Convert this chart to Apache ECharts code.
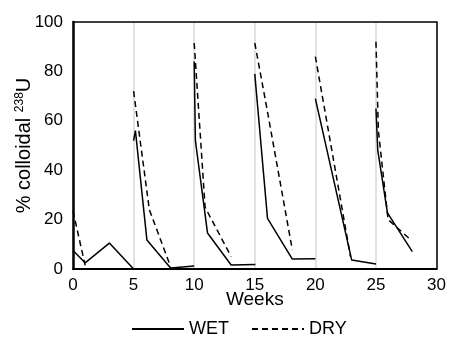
<!DOCTYPE html>
<html>
<head>
<meta charset="utf-8">
<script src="https://cdn.jsdelivr.net/npm/echarts@6/dist/echarts.min.js"></script>
<style>
  html, body { margin: 0; padding: 0; background: #fff; }
  #container { width: 449px; height: 345px; }
</style>
</head>
<body>
<div id="container"></div>
<script>
// weeks / % colloidal 238U, null = gap between sampling cycles
var wetWeeks = [0, 1, 3, 5, null, 5.0, 5.15, 6.1, 8.05, 10, null, 10, 10.1, 11.1, 13.05, 15.05, null, 15, 16.05, 18.1, 20, null, 20, 23, 25, null, 25, 25.15, 25.95, 28];
var wetPct   = [7.5, 2.5, 10.5, 0, null, 52, 56, 11.7, 0.4, 1.2, null, 84, 52, 14.6, 1.6, 1.8, null, 79, 20.5, 4, 4.2, null, 69, 3.6, 2, null, 65, 48, 22.7, 7];
var dryWeeks = [0, 1, null, 5, 6.3, 8.05, null, 10, 10.9, 13.05, null, 15, 16, 18.1, null, 20, 22.9, null, 25, 25.2, 26, 27.9];
var dryPct   = [23.5, 1.5, null, 72, 24, 1, null, 91.5, 25, 5, null, 91.5, 65, 7.7, null, 86, 5, null, 92, 56, 20, 11.7];
var xTicks = [0, 5, 10, 15, 20, 25, 30];
var yTicks = [0, 20, 40, 60, 80, 100];

function pairs(xs, ys) {
    return xs.map(function (x, i) {
        if (x === null || ys[i] === null) return ['-', '-'];
        return [x, ys[i]];
    });
}

var font = '"Liberation Sans", Arial, sans-serif';
var myChart = echarts.init(document.getElementById('container'));

// plain axes used only to draw the black frame over the gray split lines
var frameX = {
    type: 'value', position: 'top', z: 5,
    min: xTicks[0], max: xTicks[xTicks.length - 1],
    axisLine: { show: true, onZero: false, lineStyle: { color: '#000', width: 1.5 } },
    axisTick: { show: false }, axisLabel: { show: false }, splitLine: { show: false }
};
var frameY = {
    type: 'value', position: 'right', z: 5,
    min: yTicks[0], max: yTicks[yTicks.length - 1],
    axisLine: { show: true, onZero: false, lineStyle: { color: '#000', width: 1.5 } },
    axisTick: { show: false }, axisLabel: { show: false }, splitLine: { show: false }
};

var option = {
    backgroundColor: '#fff',
    animation: false,
    textStyle: { fontFamily: font, color: '#000' },
    grid: { left: 73, right: 12, top: 22, bottom: 76 },
    legend: {
        bottom: 7,
        left: 131,
        padding: 0,
        itemWidth: 52,
        itemHeight: 10,
        itemGap: 22,
        itemStyle: { opacity: 0 },
        textStyle: { fontSize: 18, color: '#000', fontFamily: font },
        data: ['WET', 'DRY']
    },
    xAxis: [{
        type: 'value',
        min: xTicks[0], max: xTicks[xTicks.length - 1], interval: 5,
        name: 'Weeks',
        nameLocation: 'middle',
        nameGap: 21,
        nameMoveOverlap: false,
        nameTextStyle: { fontSize: 19, color: '#000', fontFamily: font },
        axisLine: { onZero: false, lineStyle: { color: '#000', width: 2 } },
        axisTick: { show: false },
        axisLabel: { fontSize: 17, color: '#000', margin: 8, fontFamily: font },
        splitLine: { show: true, lineStyle: { color: '#d9d9d9', width: 1.5 } }
    }, frameX],
    yAxis: [{
        type: 'value',
        min: yTicks[0], max: yTicks[yTicks.length - 1], interval: 20,
        name: '% colloidal {sup|238}U',
        nameLocation: 'middle',
        nameRotate: 90,
        nameGap: 39,
        nameMoveOverlap: false,
        nameTextStyle: {
            fontSize: 20, color: '#000', fontFamily: font,
            rich: { sup: { fontSize: 12, verticalAlign: 'top', color: '#000', fontFamily: font } }
        },
        axisLine: { show: true, onZero: false, lineStyle: { color: '#000', width: 2.5 } },
        axisTick: { show: false },
        axisLabel: { fontSize: 17, color: '#000', margin: 10, fontFamily: font },
        splitLine: { show: false }
    }, frameY],
    series: [
        {
            name: 'WET',
            type: 'line',
            symbol: 'none',
            connectNulls: false,
            lineStyle: { color: '#000', width: 1.5, type: 'solid' },
            itemStyle: { color: '#000' },
            data: pairs(wetWeeks, wetPct)
        },
        {
            name: 'DRY',
            type: 'line',
            symbol: 'none',
            connectNulls: false,
            lineStyle: { color: '#000', width: 1.5, type: [6, 4] },
            itemStyle: { color: '#000' },
            data: pairs(dryWeeks, dryPct)
        }
    ]
};
myChart.setOption(option);
</script>
</body>
</html>
